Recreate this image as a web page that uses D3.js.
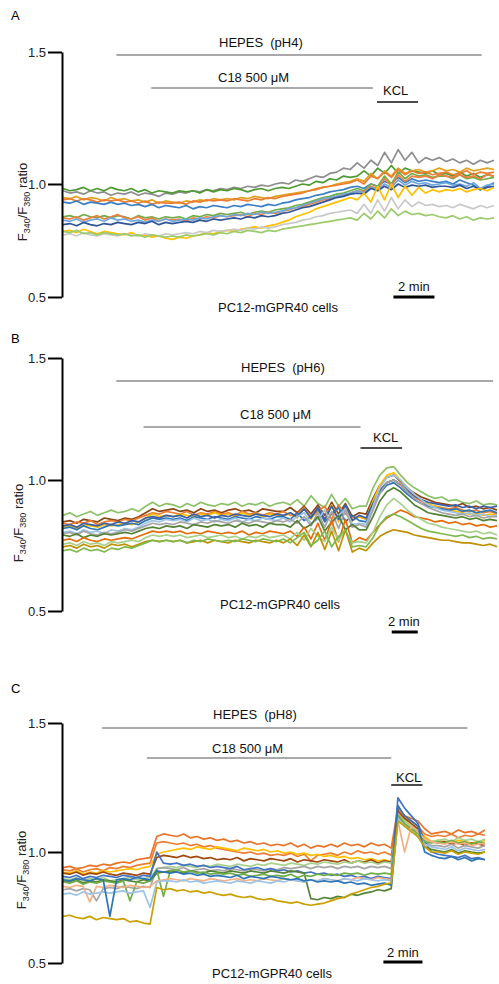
<!DOCTYPE html>
<html>
<head>
<meta charset="utf-8">
<script src="https://cdn.jsdelivr.net/npm/d3@7"></script>
<style>
  body { margin: 0; background: #fff; }
  svg { display: block; font-family: "Liberation Sans", Arial, sans-serif; }
</style>
</head>
<body>
<svg id="chart" width="499" height="984"></svg>
<script>
// y ticks shared by all three panels
const yTicks = [0.5, 1.0, 1.5];

// ---- panel A : HEPES pH4 (ratio values, one sample every ~20 s) ----
const colorsA = ["#8e8e8e", "#4e9a32", "#e0a020", "#ed7d31", "#3a7fc4", "#70ad47",
  "#f08040", "#6fa8dc", "#2f5597", "#ffc000", "#c9c9c9", "#9bcb6a"];
const tracesA = [
  [.97,.96,.965,.955,.97,.96,.965,.95, .96,.955,.965,.95,.96,.955,.945,.96, .955,.965,.96,.97,.965,.975,.97,.98, .975,.985,.98,.99,.985,.995,.99,1.0,
   1.005,1.0,1.015,1.01,1.02,1.03,1.025,1.04, 1.045,1.06,1.055,1.08,1.06,1.09,1.07,1.12, 1.08,1.13,1.09,1.12,1.08,1.10,1.09,1.1, 1.085,1.095,1.08,1.09,1.075,1.09,1.08,1.09],
  [.98,.97,.975,.985,.97,.98,.97,.985, .975,.97,.98,.965,.975,.96,.97,.965, .96,.97,.965,.97,.96,.975,.965,.975, .97,.98,.975,.965,.975,.98,.97,.98,
   .985,.98,.99,1.0,.995,1.01,1.005,1.02, 1.015,1.03,1.025,1.03,1.05,1.03,1.06,1.04, 1.07,1.04,1.06,1.05,1.045,1.04,1.05,1.035, 1.04,1.03,1.045,1.03,1.04,1.025,1.035,1.03],
  [.94,.935,.945,.93,.94,.935,.925,.94, .93,.935,.925,.93,.92,.93,.915,.925, .92,.915,.925,.92,.93,.925,.935,.93, .935,.93,.94,.935,.945,.94,.935,.945,
   .95,.955,.96,.965,.97,.98,.985,.99, 1.0,1.005,1.01,1.02,1.01,1.04,1.02,1.05, 1.03,1.06,1.04,1.05,1.055,1.045,1.05,1.06, 1.05,1.055,1.045,1.06,1.05,1.055,1.06,1.055],
  [.93,.935,.925,.935,.93,.92,.93,.925, .93,.92,.925,.915,.925,.91,.92,.915, .915,.92,.91,.925,.92,.93,.925,.93, .925,.935,.93,.925,.935,.93,.94,.935,
   .945,.95,.955,.96,.97,.975,.985,.99, .995,1.0,1.005,1.015,1.0,1.03,1.02,1.045, 1.025,1.055,1.035,1.05,1.04,1.045,1.035,1.04, 1.045,1.035,1.04,1.05,1.035,1.045,1.04,1.045],
  [.92,.915,.925,.91,.92,.915,.91,.92, .91,.915,.905,.91,.90,.91,.895,.905, .90,.895,.905,.89,.90,.895,.905,.90, .895,.905,.9,.91,.905,.9,.91,.905,
   .915,.92,.93,.935,.94,.95,.955,.965, .97,.975,.985,.99,.98,1.0,.99,1.01, 1.0,1.025,1.005,1.02,1.01,1.015,1.01,1.005, 1.01,1.0,1.015,1.005,.995,.975,.99,1.005],
  [.855,.86,.85,.865,.855,.85,.86,.85, .86,.855,.845,.86,.85,.855,.845,.855, .85,.855,.845,.86,.855,.865,.86,.87, .865,.87,.875,.865,.875,.88,.875,.885,
   .89,.895,.905,.91,.92,.93,.94,.945, .955,.96,.97,.98,.97,1.0,.99,1.03, 1.0,1.045,1.02,1.04,1.03,1.035,1.025,1.03, 1.03,1.02,1.035,1.02,1.025,1.015,1.02,1.025],
  [.85,.845,.855,.84,.85,.86,.845,.855, .865,.85,.845,.855,.84,.85,.835,.845, .84,.845,.835,.85,.845,.855,.85,.86, .855,.86,.865,.855,.87,.865,.875,.87,
   .88,.885,.895,.9,.91,.92,.93,.935, .945,.95,.96,.97,.965,.99,.98,1.02, .99,1.035,1.01,1.03,1.025,1.03,1.02,1.035, 1.03,1.025,1.035,1.025,1.03,1.02,1.035,1.03],
  [.84,.835,.845,.83,.84,.845,.835,.85, .84,.845,.835,.84,.83,.84,.835,.845, .835,.84,.845,.84,.85,.845,.855,.86, .855,.865,.86,.87,.865,.875,.87,.875,
   .88,.89,.895,.905,.915,.925,.935,.94, .945,.955,.96,.97,.96,.985,.975,1.0, .985,1.015,.995,1.01,1.0,1.005,.995,1.0, 1.005,.995,1.0,.99,1.005,.98,.995,1.0],
  [.82,.825,.815,.83,.82,.815,.825,.82, .83,.825,.82,.83,.825,.835,.82,.83, .825,.83,.835,.83,.84,.835,.845,.84, .845,.85,.845,.855,.85,.86,.855,.86,
   .87,.875,.885,.895,.9,.91,.92,.93, .94,.945,.955,.96,.955,.98,.97,.99, .975,1.0,.985,.995,.99,.995,.985,.99, .99,.985,.995,.98,.99,.975,.985,.99],
  [.79,.795,.785,.8,.79,.78,.79,.785, .78,.775,.785,.77,.775,.765,.77,.76, .755,.765,.76,.77,.775,.785,.78,.79, .795,.79,.8,.805,.81,.805,.815,.82,
   .83,.84,.855,.865,.875,.89,.9,.91, .92,.93,.94,.93,.96,.92,.99,.93, 1.0,.94,.99,.95,.985,.96,.975,.965, .975,.97,.98,.965,.975,.98,.97,.985],
  [.775,.78,.77,.785,.775,.77,.78,.775, .77,.78,.775,.77,.78,.775,.77,.78, .775,.78,.785,.78,.79,.785,.795,.79, .795,.8,.795,.805,.8,.81,.805,.81,
   .82,.825,.83,.84,.845,.855,.86,.87, .875,.88,.885,.87,.91,.87,.93,.88, .94,.89,.93,.9,.92,.905,.91,.9, .905,.895,.91,.9,.89,.905,.895,.905],
  [.79,.785,.795,.78,.785,.775,.785,.78, .775,.78,.77,.775,.765,.775,.77,.765, .77,.765,.775,.77,.775,.78,.775,.785, .78,.79,.785,.795,.79,.785,.795,.79,
   .8,.805,.81,.815,.82,.825,.83,.835, .84,.845,.85,.84,.87,.845,.88,.85, .89,.86,.88,.865,.87,.86,.865,.855, .85,.86,.845,.855,.84,.85,.845,.85]
];

// ---- panel B : HEPES pH6 ----
const colorsB = ["#8cc168", "#8b4513", "#ed7d31", "#ffc000", "#2e75b6", "#3b5fa8",
  "#9dc3e6", "#a5a5a5", "#548235", "#e46c0a", "#a9d18e", "#bf9000", "#7fb84e"];
const tracesB = [
  [.865,.875,.86,.87,.88,.865,.875,.885, .875,.88,.89,.88,.9,.915,.9,.91, .905,.895,.91,.9,.915,.905,.9,.91, .905,.915,.9,.91,.905,.915,.9,.91,
   .915,.905,.925,.9,.94,.91,.895,.945, .9,.93,.89,.9,.9,.97,1.02,1.05, 1.055,1.02,.99,.97,.955,.94,.93,.935, .92,.925,.915,.91,.92,.905,.91,.905],
  [.84,.845,.835,.85,.845,.84,.855,.85, .845,.855,.85,.86,.875,.89,.88,.885, .89,.88,.885,.875,.89,.88,.885,.875, .885,.89,.88,.885,.875,.89,.885,.88,
   .88,.895,.875,.9,.87,.905,.865,.915, .87,.91,.86,.875,.87,.93,.98,1.01, 1.02,.995,.97,.95,.935,.925,.915,.91, .905,.9,.91,.895,.9,.89,.895,.885],
  [.835,.83,.84,.835,.845,.83,.84,.845, .84,.85,.845,.855,.865,.875,.87,.88, .875,.87,.88,.865,.875,.87,.88,.87, .875,.865,.88,.87,.875,.865,.875,.87,
   .88,.865,.87,.895,.855,.88,.9,.85, .905,.87,.855,.86,.85,.91,.96,.99, 1.0,.98,.955,.935,.92,.905,.9,.895, .89,.895,.885,.88,.885,.875,.88,.87],
  [.82,.825,.815,.83,.825,.82,.83,.825, .83,.835,.83,.84,.855,.87,.86,.865, .86,.87,.865,.86,.87,.865,.875,.865, .87,.86,.875,.865,.87,.86,.87,.865,
   .86,.875,.855,.89,.85,.895,.845,.905, .84,.9,.845,.86,.85,.92,.98,1.02, 1.03,1.0,.97,.945,.925,.91,.9,.89, .885,.88,.875,.87,.875,.865,.87,.865],
  [.815,.82,.81,.825,.815,.81,.82,.83, .825,.83,.835,.83,.845,.855,.85,.855, .85,.855,.845,.86,.855,.85,.86,.855, .85,.86,.855,.85,.86,.855,.85,.86,
   .86,.85,.875,.845,.86,.89,.84,.87, .895,.84,.865,.845,.84,.9,.95,.98, .99,.97,.945,.925,.91,.9,.895,.89, .885,.89,.88,.885,.875,.88,.885,.875],
  [.825,.83,.82,.835,.83,.825,.835,.83, .84,.835,.845,.84,.855,.86,.855,.865, .86,.865,.855,.87,.86,.865,.855,.865, .86,.87,.865,.86,.87,.865,.86,.87,
   .865,.875,.86,.89,.855,.895,.85,.9, .85,.905,.845,.865,.855,.91,.96,.99, 1.0,.985,.96,.94,.925,.915,.91,.905, .9,.905,.895,.9,.89,.9,.895,.9],
  [.8,.805,.795,.81,.8,.805,.795,.81, .805,.815,.81,.82,.835,.845,.84,.85, .845,.85,.84,.855,.845,.85,.84,.85, .845,.855,.84,.85,.845,.855,.85,.845,
   .855,.84,.86,.875,.835,.85,.885,.83, .865,.89,.83,.835,.83,.9,.97,1.01, 1.02,1.0,.97,.945,.925,.905,.895,.885, .88,.875,.87,.875,.865,.87,.86,.865],
  [.795,.8,.79,.805,.795,.79,.8,.795, .8,.81,.805,.815,.825,.835,.83,.835, .83,.84,.835,.83,.84,.835,.845,.84, .835,.845,.84,.835,.845,.84,.835,.845,
   .84,.85,.835,.86,.825,.875,.82,.88, .815,.885,.82,.83,.82,.885,.95,.99, 1.0,.985,.955,.93,.91,.895,.885,.875, .87,.865,.87,.86,.865,.855,.86,.86],
  [.79,.785,.795,.78,.79,.785,.795,.79, .795,.8,.795,.805,.815,.82,.815,.825, .82,.825,.815,.83,.825,.82,.83,.825, .83,.82,.835,.825,.83,.82,.835,.83,
   .83,.82,.845,.815,.83,.86,.805,.84, .865,.81,.83,.81,.81,.86,.92,.955, .97,.955,.93,.905,.89,.875,.87,.865, .86,.855,.86,.85,.855,.845,.85,.845],
  [.77,.775,.765,.78,.77,.765,.775,.77, .775,.78,.775,.785,.795,.805,.8,.805, .8,.805,.795,.8,.795,.805,.8,.795, .8,.795,.805,.79,.8,.795,.805,.8,
   .795,.805,.785,.82,.775,.835,.77,.845, .765,.85,.76,.78,.77,.8,.83,.855, .87,.885,.875,.86,.855,.85,.84,.845, .835,.84,.83,.835,.825,.83,.82,.825],
  [.755,.76,.75,.765,.755,.76,.75,.765, .76,.765,.77,.765,.78,.79,.785,.79, .785,.79,.78,.785,.79,.78,.785,.79, .78,.785,.775,.785,.78,.79,.78,.785,
   .79,.775,.8,.77,.815,.785,.765,.82, .77,.805,.76,.765,.76,.8,.86,.905, .93,.91,.885,.865,.85,.835,.83,.82, .815,.81,.805,.8,.805,.795,.8,.79],
  [.745,.75,.74,.755,.745,.75,.74,.755, .75,.755,.745,.755,.765,.77,.765,.77, .765,.77,.76,.765,.77,.76,.77,.765, .76,.77,.765,.76,.77,.765,.76,.77,
   .76,.775,.75,.79,.745,.8,.735,.805, .73,.81,.725,.74,.73,.76,.785,.8, .81,.805,.8,.79,.785,.78,.775,.77, .77,.765,.76,.76,.755,.75,.755,.745],
  [.73,.735,.725,.74,.73,.735,.725,.74, .735,.745,.74,.75,.76,.77,.765,.77, .765,.77,.76,.77,.765,.775,.77,.765, .77,.765,.775,.77,.765,.775,.77,.765,
   .775,.76,.78,.8,.75,.77,.805,.745, .785,.81,.745,.75,.745,.78,.83,.86, .87,.86,.845,.83,.815,.805,.8,.795, .79,.785,.79,.78,.785,.775,.78,.775]
];

// ---- panel C : HEPES pH8 ----
const colorsC = ["#e8732a", "#ed7d31", "#ffc000", "#9e480e", "#a9d18e", "#a5a5a5",
  "#4472c4", "#548235", "#70ad47", "#f4b183", "#9dc3e6", "#2e75b6", "#c9a100"];
const tracesC = [
  [.93,.935,.925,.93,.94,.935,.945,.94, .95,.955,.95,.965,.97,.975,1.06,1.07, 1.065,1.06,1.07,1.055,1.06,1.05,1.055,1.045, 1.05,1.04,1.045,1.035,1.04,1.03,1.035,1.025,
   1.03,1.025,1.035,1.02,1.03,1.015,1.025,1.02, 1.03,1.02,1.035,1.025,1.03,1.02,1.035,1.025, 1.03,1.015,1.17,1.14,1.13,1.12,1.09,1.07, 1.075,1.08,1.07,1.085,1.075,1.08,1.07,1.085],
  [.92,.915,.925,.91,.92,.925,.915,.93, .925,.935,.93,.94,.945,.95,1.035,1.04, 1.035,1.03,1.035,1.025,1.03,1.02,1.025,1.015, 1.01,1.005,1.0,.995,1.0,.99,.995,.985,
   .99,.985,.995,.98,.99,.96,.985,.99, .995,.985,1.0,.99,1.005,.995,1.0,.99, 1.0,.985,1.15,1.13,1.12,1.1,1.07,1.06, 1.065,1.06,1.07,1.055,1.065,1.06,1.07,1.065],
  [.91,.905,.915,.9,.91,.905,.915,.91, .915,.92,.925,.92,.93,.935,.99,1.0, 1.005,1.01,1.015,1.01,1.02,1.015,1.01,1.02, 1.015,1.01,1.005,1.015,1.01,1.005,1.01,1.0,
   1.005,.995,1.0,.99,.995,.985,.99,.98, .985,.975,.98,.97,.975,.965,.97,.96, .965,.955,1.15,1.12,1.1,1.09,1.06,1.04, 1.045,1.04,1.035,1.045,1.04,1.035,1.04,1.045],
  [.905,.9,.91,.895,.905,.9,.91,.9, .895,.905,.9,.895,.905,.9,.975,.985, .98,.975,.985,.975,.98,.97,.975,.965, .97,.965,.975,.96,.97,.965,.96,.97,
   .965,.96,.97,.955,.965,.96,.955,.965, .96,.955,.965,.95,.96,.955,.965,.95, .96,.955,1.16,1.13,1.11,1.09,1.05,1.04, 1.035,1.04,1.03,1.035,1.025,1.035,1.03,1.025],
  [.88,.875,.885,.87,.88,.875,.885,.87, .875,.88,.885,.875,.88,.885,.925,.93, .935,.93,.94,.935,.93,.94,.935,.945, .94,.935,.945,.94,.935,.945,.94,.95,
   .945,.94,.95,.945,.94,.95,.945,.955, .95,.945,.955,.95,.96,.95,.955,.945, .955,.95,1.14,1.12,1.1,1.08,1.05,1.04, 1.045,1.05,1.04,1.055,1.045,1.05,1.04,1.05],
  [.83,.835,.825,.835,.83,.78,.835,.84, .835,.845,.84,.835,.845,.84,.925,.93, .925,.92,.93,.915,.92,.925,.915,.92, .915,.925,.92,.915,.925,.92,.915,.925,
   .92,.93,.925,.93,.935,.925,.935,.93, .935,.925,.935,.93,.935,.925,.935,.93, .935,.925,1.15,1.11,1.09,1.08,1.04,1.025, 1.025,1.02,1.03,1.015,1.025,1.02,1.015,1.025],
  [.89,.885,.895,.88,.89,.885,.895,.89, .885,.895,.89,.885,.895,.89,1.0,.95, .945,.95,.94,.945,.935,.94,.93,.935, .93,.925,.935,.92,.925,.93,.92,.925,
   .915,.92,.91,.915,.905,.91,.9,.905, .895,.9,.89,.895,.885,.89,.88,.89, .885,.88,1.21,1.17,1.14,1.11,1.04,1.0, .99,.985,.98,.975,.985,.97,.975,.965],
  [.87,.865,.875,.86,.87,.865,.875,.87, .865,.875,.87,.865,.875,.87,.905,.91, .915,.91,.905,.915,.91,.905,.915,.91, .905,.915,.91,.905,.915,.91,.905,.915,
   .91,.905,.915,.91,.905,.79,.785,.795, .79,.8,.795,.81,.805,.815,.82,.83, .825,.835,1.13,1.1,1.08,1.06,1.02,1.01, 1.005,1.0,1.01,.995,1.005,1.0,.995,1.0],
  [.865,.86,.87,.855,.865,.86,.87,.865, .86,.87,.78,.865,.86,.87,.92,.8, .915,.92,.91,.915,.905,.91,.9,.905, .9,.905,.895,.9,.89,.895,.9,.89,
   .895,.89,.9,.885,.895,.89,.9,.895, .9,.895,.905,.9,.905,.895,.905,.9, .905,.9,1.14,1.11,1.09,1.07,1.04,1.035, 1.04,1.035,1.045,1.035,1.04,1.03,1.04,1.035],
  [.845,.84,.85,.845,.775,.845,.84,.85, .845,.84,.85,.845,.84,.845,.87,.875, .88,.875,.87,.88,.875,.87,.88,.875, .87,.875,.88,.87,.875,.87,.88,.875,
   .87,.88,.875,.87,.865,.875,.87,.88, .875,.87,.88,.875,.885,.88,.875,.885, .88,.875,1.12,1.0,1.1,1.08,1.05,1.04, 1.035,1.03,1.04,1.03,1.035,1.025,1.03,1.035],
  [.81,.815,.805,.82,.81,.815,.82,.815, .82,.825,.815,.82,.825,.75,.865,.87, .87,.865,.875,.865,.87,.86,.865,.87, .865,.86,.87,.865,.86,.87,.865,.86,
   .87,.865,.875,.87,.865,.875,.87,.88, .875,.87,.88,.875,.87,.88,.875,.87, .875,.87,1.13,1.1,1.08,1.06,1.03,1.02, 1.015,1.01,1.02,1.005,1.015,1.01,1.005,1.01],
  [.875,.87,.88,.875,.87,.88,.875,.71, .875,.88,.875,.885,.88,.875,.915,.91, .905,.91,.9,.905,.895,.9,.89,.895, .89,.885,.895,.88,.89,.885,.88,.89,
   .885,.88,.875,.88,.87,.875,.865,.87, .865,.87,.86,.865,.855,.86,.85,.855, .86,.85,1.18,1.14,1.12,1.1,1.0,.985, .975,.97,.98,.965,.975,.96,.97,.965],
  [.71,.715,.705,.7,.71,.695,.705,.7, .695,.7,.685,.69,.68,.675,.84,.83, .835,.825,.83,.82,.825,.815,.82,.81, .805,.81,.8,.795,.8,.79,.785,.79,
   .78,.775,.77,.775,.765,.76,.765,.77, .78,.79,.795,.81,.82,.83,.84,.845, .855,.86,1.12,1.1,1.08,1.06,1.02,1.0, 1.0,.995,1.005,.99,1.0,.995,.99,1.0]
];

// event bars, in minutes from the start of each recording
const hepesA = [2.6, 20.4], c18A = [4.3, 15.1], kclA = [15.3, 17.3], barA = [16.1, 18.1];
const hepesB = [4.1, 33.1], c18B = [6.2, 22.9], kclB = [22.9, 26.1], barB = [25.3, 27.3];
const hepesC = [2.0, 20.7], c18C = [4.3, 16.8], kclC = [16.8, 18.4], barC = [16.4, 18.4];
const phLabels = ["HEPES  (pH4)", "HEPES  (pH6)", "HEPES  (pH8)"];

// layout for each panel (pixels)
const panels = [
  { letter: "A", letterY: 20, traces: tracesA, colors: colorsA, tEnd: 21, x0: 63, x1: 494,
    yR: [297, 184, 52], hepes: hepesA, c18: c18A, kcl: kclA, bar: barA, ph: phLabels[0],
    hepesY: 55, hepesTx: 219, hepesTy: 47, c18Y: 88, c18Tx: 218, c18Ty: 82,
    kclY: 102, kclTx: 383, kclTy: 95, barY: 297, barTx: 398, barTy: 291,
    cellTx: 218, cellTy: 312, labX: 27, labY: 202 },
  { letter: "B", letterY: 343, traces: tracesB, colors: colorsB, tEnd: 33.4, x0: 63, x1: 497,
    yR: [611, 480, 358], hepes: hepesB, c18: c18B, kcl: kclB, bar: barB, ph: phLabels[1],
    hepesY: 381, hepesTx: 241, hepesTy: 372, c18Y: 427, c18Tx: 240, c18Ty: 419,
    kclY: 448, kclTx: 373, kclTy: 442, barY: 632, barTx: 388, barTy: 626,
    cellTx: 220, cellTy: 609, labX: 23, labY: 523 },
  { letter: "C", letterY: 693, traces: tracesC, colors: colorsC, tEnd: 21.6, x0: 63, x1: 485,
    yR: [963, 852, 723], hepes: hepesC, c18: c18C, kcl: kclC, bar: barC, ph: phLabels[2],
    hepesY: 728, hepesTx: 213, hepesTy: 719, c18Y: 758, c18Tx: 212, c18Ty: 753,
    kclY: 785, kclTx: 396, kclTy: 782, barY: 962, barTx: 387, barTy: 957,
    cellTx: 212, cellTy: 978, labX: 26, labY: 870 }
];

const svg = d3.select("#chart");

panels.forEach((p) => {
  const g = svg.append("g");
  const y = d3.scaleLinear().domain(yTicks).range(p.yR);
  const x = d3.scaleLinear().domain([0, p.tEnd]).range([p.x0, p.x1]);

  // panel letter
  g.append("text").attr("x", 11).attr("y", p.letterY)
    .style("font-size", "13px").text(p.letter);

  // traces
  p.traces.forEach((vals, k) => {
    const n = vals.length;
    const line = d3.line()
      .x((d, i) => x((i * p.tEnd) / (n - 1)))
      .y((d) => y(d));
    g.append("path")
      .datum(vals)
      .attr("d", line)
      .attr("fill", "none")
      .attr("stroke", p.colors[k])
      .attr("stroke-width", 1.7)
      .attr("stroke-linejoin", "round");
  });

  // y axis
  const axis = g.append("g")
    .attr("transform", `translate(62,0)`)
    .call(d3.axisLeft(y).tickValues(yTicks).tickFormat(d3.format(".1f"))
      .tickSize(14).tickSizeOuter(0).tickPadding(2));
  axis.select(".domain").attr("stroke", "#000").attr("stroke-width", 2);
  axis.selectAll(".tick line").attr("stroke", "#000").attr("stroke-width", 2);
  axis.selectAll(".tick text").style("font-size", "13px").attr("fill", "#222")
    .style("font-family", "'Liberation Sans', Arial, sans-serif");

  // y label F340/F380 ratio
  const lab = g.append("text")
    .attr("transform", `translate(${p.labX},${p.labY}) rotate(-90)`)
    .attr("text-anchor", "middle")
    .style("font-size", "13px").attr("fill", "#222");
  lab.append("tspan").text("F");
  lab.append("tspan").attr("dy", 3).style("font-size", "9px").text("340");
  lab.append("tspan").attr("dy", -3).text("/F");
  lab.append("tspan").attr("dy", 3).style("font-size", "9px").text("380");
  lab.append("tspan").attr("dy", -3).text(" ratio");

  // treatment bars
  g.append("line").attr("x1", x(p.hepes[0])).attr("x2", x(p.hepes[1]))
    .attr("y1", p.hepesY).attr("y2", p.hepesY)
    .attr("stroke", "#555").attr("stroke-width", 1);
  g.append("text").attr("x", p.hepesTx).attr("y", p.hepesTy)
    .style("font-size", "13px").style("white-space", "pre").attr("fill", "#111")
    .text(p.ph);

  g.append("line").attr("x1", x(p.c18[0])).attr("x2", x(p.c18[1]))
    .attr("y1", p.c18Y).attr("y2", p.c18Y)
    .attr("stroke", "#555").attr("stroke-width", 1);
  g.append("text").attr("x", p.c18Tx).attr("y", p.c18Ty)
    .style("font-size", "13px").attr("fill", "#111")
    .text("C18 500 \u03bcM");

  g.append("line").attr("x1", x(p.kcl[0])).attr("x2", x(p.kcl[1]))
    .attr("y1", p.kclY).attr("y2", p.kclY)
    .attr("stroke", "#111").attr("stroke-width", 1.5);
  g.append("text").attr("x", p.kclTx).attr("y", p.kclTy)
    .style("font-size", "13px").attr("fill", "#111").text("KCL");

  // 2 min scale bar
  g.append("line").attr("x1", x(p.bar[0])).attr("x2", x(p.bar[1]))
    .attr("y1", p.barY).attr("y2", p.barY)
    .attr("stroke", "#000").attr("stroke-width", 3);
  g.append("text").attr("x", p.barTx).attr("y", p.barTy)
    .style("font-size", "13px").attr("fill", "#111").text("2 min");

  g.append("text").attr("x", p.cellTx).attr("y", p.cellTy)
    .style("font-size", "13px").attr("fill", "#111").text("PC12-mGPR40 cells");
});
</script>
</body>
</html>
